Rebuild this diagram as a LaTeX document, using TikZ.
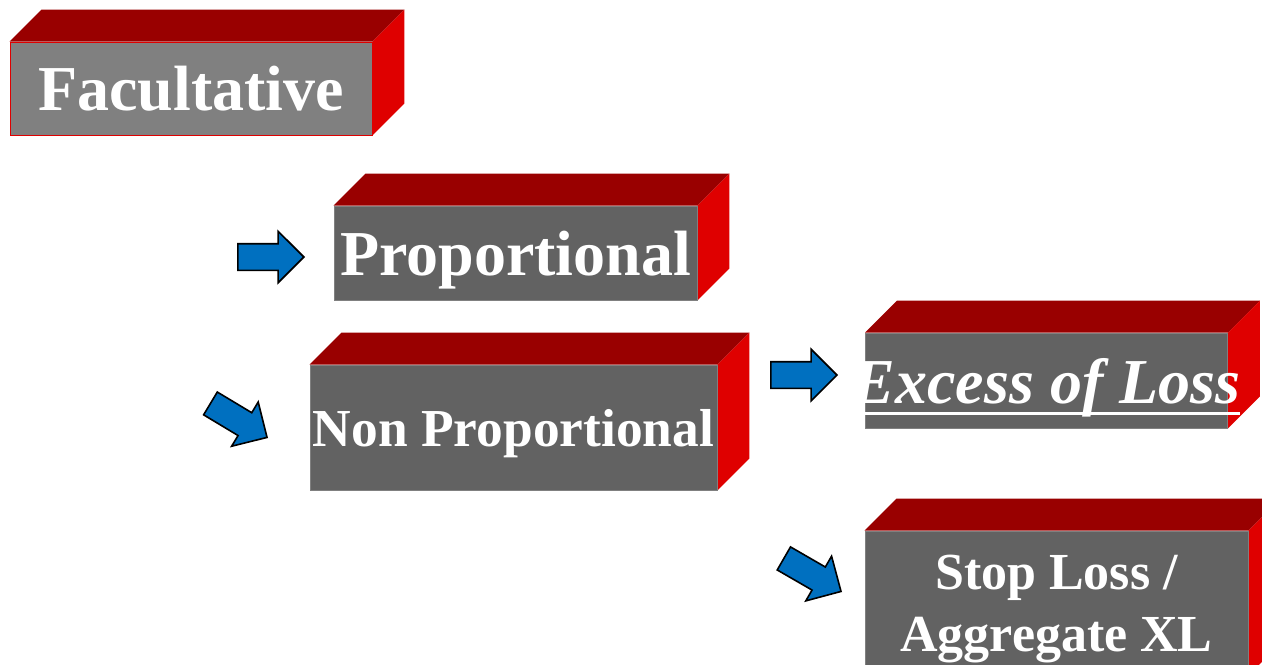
\documentclass[tikz,border=0pt]{standalone}
\usepackage{fontspec}
\setmainfont{Liberation Serif}
\usetikzlibrary{shapes.arrows,backgrounds}
\definecolor{frontgray}{HTML}{626262}
\definecolor{facgray}{HTML}{808080}
\definecolor{topred}{HTML}{990000}
\definecolor{sidered}{HTML}{DF0000}
\definecolor{arrowblue}{HTML}{0070C0}
\newsavebox{\ulbox}
\newcommand{\ulwhite}[1]{\sbox{\ulbox}{#1}\rlap{\usebox{\ulbox}}\rule[-6pt]{\wd\ulbox}{1.6pt}}

\begin{document}
\begin{tikzpicture}[x=0.5pt,y=-0.5pt,
  block/.style={rectangle,fill=frontgray,draw=gray,line width=0.4pt,inner sep=0pt,text depth=0pt,text=white,font=\bfseries\fontsize{32}{38}\selectfont},
  blockarrow/.style={single arrow,draw=black,fill=arrowblue,line width=0.8pt,inner xsep=0pt,inner ysep=6.25pt,single arrow head extend=6.25pt,minimum height=33pt,anchor=tip}]

\useasboundingbox (0,0) rectangle (1262,664);
\clip (0,0) rectangle (1262,664);

\node[block,fill=facgray,draw=sidered,minimum width=181pt,minimum height=46.5pt] (fac) at (191,88.5) {Facultative};
\node[block,minimum width=181.5pt,minimum height=47pt] (prop) at (515.5,253) {Proportional};
\node[block,minimum width=203.5pt,minimum height=62.5pt,font=\bfseries\fontsize{26.7}{32}\selectfont] (nonprop) at (513.5,427.5) {Non Proportional};
\node[block,minimum width=181pt,minimum height=47.5pt] (xl) at (1046.5,380.5) {\makebox[0pt]{\itshape\ulwhite{Excess of Loss}}};
\node[block,minimum width=191.5pt,minimum height=72pt,align=center,font=\bfseries\fontsize{26}{31}\selectfont] (stop) at (1056.5,603) {Stop Loss /\\Aggregate XL};

\begin{scope}[on background layer]
\foreach \b in {fac,prop,nonprop,xl,stop}{
  \fill[topred] (\b.north west) -- ++(32,-32) -- ([shift={(32,-32)}]\b.north east) -- (\b.north east) -- cycle;
  \fill[sidered] (\b.north east) -- ++(32,-32) -- ([shift={(32,-32)}]\b.south east) -- (\b.south east) -- cycle;
}
\end{scope}

\node[blockarrow] (a1) at (305,257) {};
\node[blockarrow,rotate=-31] (a2) at (268,438) {};
\node[blockarrow] (a3) at (838,375) {};
\node[blockarrow,rotate=-30] (a4) at (842,592) {};

\end{tikzpicture}
\end{document}
